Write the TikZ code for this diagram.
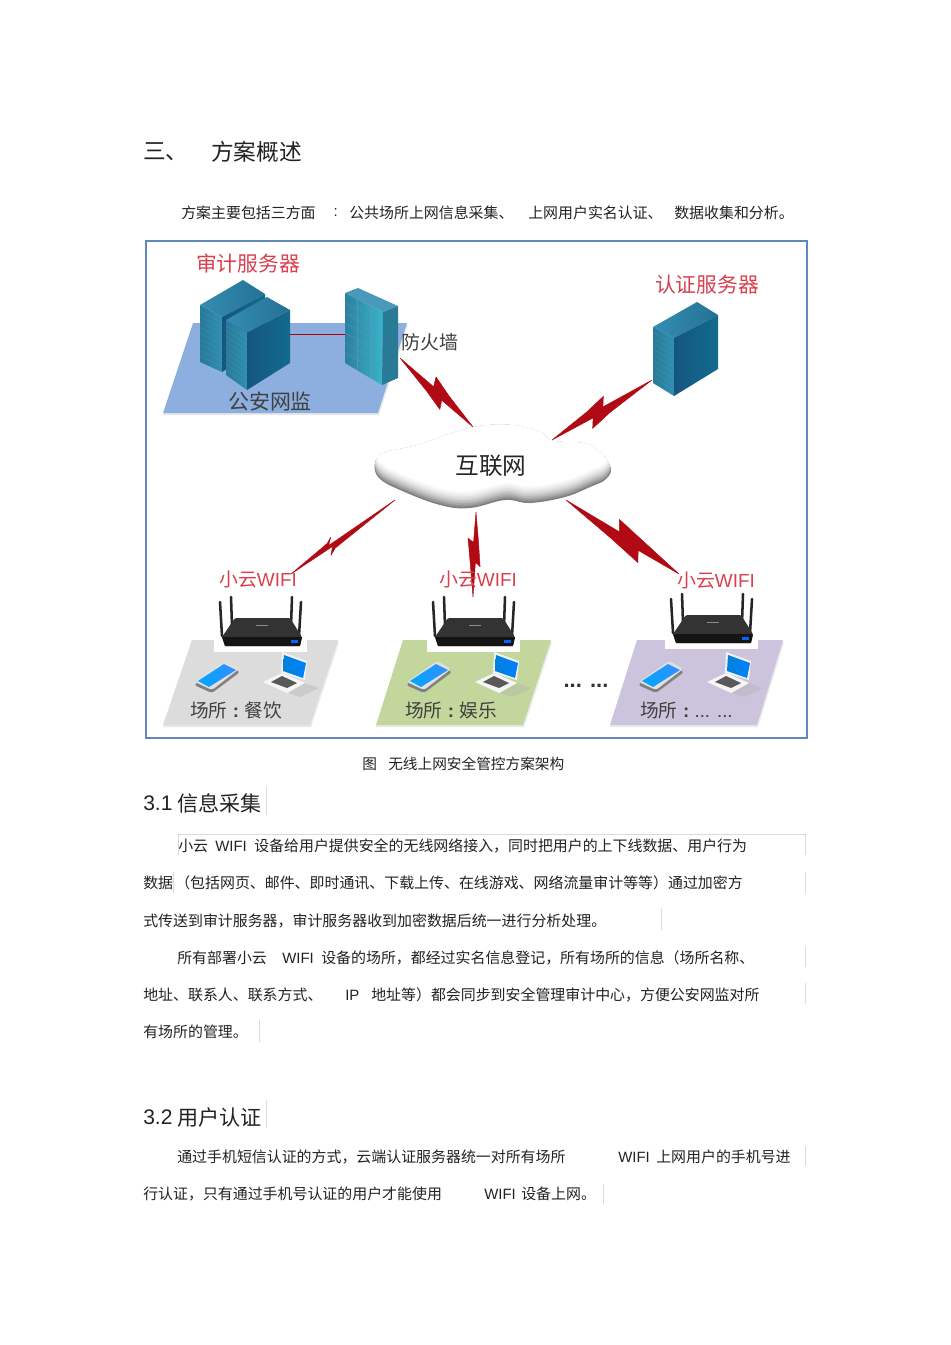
\documentclass[tikz,border=0pt]{standalone}
\usepackage{fontspec}
\setmainfont{Noto Sans CJK SC}
\newfontfamily\lat{Liberation Sans}
\usetikzlibrary{calc}
\definecolor{framebl}{HTML}{5F88B8}
\definecolor{boltred}{HTML}{B20A14}
\definecolor{lblred}{HTML}{D9404F}
\definecolor{inkc}{HTML}{222222}
\definecolor{blueplane}{HTML}{8DAFDF}
\definecolor{greyplane}{HTML}{DCDCDC}
\definecolor{greenplane}{HTML}{C3D69B}
\definecolor{purpleplane}{HTML}{CCC3DC}
\definecolor{srvfront}{HTML}{2F8FB2}
\definecolor{srvside}{HTML}{15567F}
\definecolor{srvtop}{HTML}{2A86AE}
\tikzset{
 bodytxt/.style={anchor=west,inner sep=0pt,yshift=-.7pt,text=inkc,font=\fontsize{11.2}{13}\selectfont},
 headtxt/.style={anchor=west,inner sep=0pt,text=inkc,font=\fontsize{15.8}{18}\selectfont},
 redlbl/.style={inner sep=0pt,text=lblred,font=\fontsize{15.6}{18}\selectfont},
 wifilbl/.style={inner sep=0pt,text=lblred,font=\fontsize{14.2}{17}\selectfont},
 darklbl/.style={inner sep=0pt,text=black!75,font=\fontsize{15.7}{18}\selectfont},
 venuelbl/.style={inner sep=0pt,anchor=west,yshift=-.7pt,text=black!75,font=\fontsize{14}{16}\selectfont},
 hair/.style={draw=black!14,line width=.45pt},
 plane/.style={draw=none,fill=#1},
 pics/router/.style={code={
  \fill[white] (214,589) rectangle (307,652);
  \draw[black!85,line width=1.9pt,line cap=round] (220,602)--(222,636);
  \draw[black!85,line width=1.9pt,line cap=round] (231,597)--(232,626);
  \draw[black!85,line width=1.9pt,line cap=round] (292,597)--(291,626);
  \draw[black!85,line width=1.9pt,line cap=round] (301,602)--(299,636);
  \fill[black!80,rounded corners=1pt] (235,618)--(290,618)--(302,637)--(300,646)--(225,646)--(222,637)--cycle;
  \fill[black!92] (222,637)--(302,637)--(300,646)--(225,646)--cycle;
  \fill[black!45] (256,625) rectangle (268,626);
  \fill[blue!60!cyan] (291,640) rectangle (298,643);
 }},
 pics/devices/.style={code={
  % phone
  \fill[black!50,rounded corners=2pt] (194,685)--(225,664)--(240,672)--(212,693)--cycle;
  \fill[black!12,rounded corners=2pt] (195,682)--(225,661)--(239,669)--(212,690)--cycle;
  \shade[left color=cyan!65!blue,right color=cyan!45!blue!80] (198,681)--(224,664)--(236,670)--(209,687)--cycle;
  % laptop
  \fill[black!30,opacity=.4] (288,693)--(304,683)--(319,688)--(300,697)--cycle;
  \fill[black!5] (282,652)--(307,661)--(305,680)--(281,673)--cycle;
  \shade[left color=cyan!60!blue!85!black,right color=cyan!50!blue] (284,655)--(306,663)--(303,678)--(283,671)--cycle;
  \fill[black!4] (263,682)--(282,673)--(305,683)--(287,693)--cycle;
  \fill[black!65] (271,682)--(282,676)--(297,683)--(287,688)--cycle;
 }}
}
% server: left-top, back-top, right-top, front-top, left-bottom, front-bottom, right-bottom
\newcommand\srvfaces[7]{%
 \shade[left color=srvfront!85!black,right color=srvfront] (#1)--(#4)--(#6)--(#5)--cycle;
 \foreach \q in {.1,.2,...,.9}{\draw[srvside!50,opacity=.3,line width=.2pt] ($(#1)!\q!(#5)$)--($(#4)!\q!(#6)$);}
 \shade[left color=srvtop!95!white,right color=srvtop!85!black] (#1)--(#2)--(#3)--(#4)--cycle;
 \shade[left color=srvside,right color=srvside!88!cyan] (#4)--(#3)--(#7)--(#6)--cycle;}
\newcommand\boltz[6]{%
 \pgfmathsetmacro\tAa{#3+.02}\pgfmathsetmacro\tAb{#5-.05}\pgfmathsetmacro\tAc{#5-.03}\pgfmathsetmacro\tAd{#3+.05}%
 \pgfmathsetlengthmacro\oAa{(#6)*.42}\pgfmathsetlengthmacro\oAb{(#6)*.75}\pgfmathsetlengthmacro\oAc{(#6)*.15}%
 \pgfmathsetlengthmacro\oBa{(#4)*.42}\pgfmathsetlengthmacro\oBb{(#4)*.75}\pgfmathsetlengthmacro\oBc{(#4)*.15}%
 \filldraw[boltred,line width=.35pt,line join=round] (#1) -- ($(#1)!\tAa!(#2)!\oAa!90:(#2)$) -- ($(#1)!#5!(#2)!\oAb!90:(#2)$)
   -- ($(#1)!\tAb!(#2)!\oAc!90:(#2)$) -- (#2)
   -- ($(#1)!\tAc!(#2)!\oBa!90:(#2)$) -- ($(#1)!#3!(#2)!\oBb!90:(#2)$)
   -- ($(#1)!\tAd!(#2)!\oBc!90:(#2)$) -- cycle;}
\begin{document}
\begin{tikzpicture}[x=0.75pt,y=-0.75pt]
\useasboundingbox (0,0) rectangle (950,1345);
\fill[white] (0,0) rectangle (950,1345);
% heading
\node[headtxt,yshift=-.7pt,font=\fontsize{17}{20}\selectfont] (h3a) at (143,151) {三、};
\node[headtxt,yshift=-.7pt,font=\fontsize{17}{20}\selectfont] (h3b) at (211,151) {方案概述};
\node[bodytxt] (p0a) at (181,212) {方案主要包括三方面};
\node[bodytxt] (p0b) at (331,212) {\hspace{.15em}{\lat :}};
\node[bodytxt] (p0c) at (349,212) {公共场所上网信息采集、};
\node[bodytxt] (p0d) at (528,212) {上网用户实名认证、};
\node[bodytxt] (p0e) at (674,212) {数据收集和分析。};
% frame
\draw[framebl,line width=1.1pt] (146,241) rectangle (807,738);
% planes
\fill[black!9] (193,325)--(408,325)--(379,415)--(163,415)--cycle;
\fill[black!9] (192,642)--(339,642)--(311,727)--(163,727)--cycle;
\fill[black!9] (403,642)--(552,642)--(524,727)--(376,727)--cycle;
\fill[black!9] (637,642)--(784,642)--(758,727)--(610,727)--cycle;
\fill[plane=blueplane] (193,323)--(407,323)--(378,413)--(163,413)--cycle;
\fill[plane=greyplane] (192,640)--(338,640)--(310,725)--(163,725)--cycle;
\fill[plane=greenplane] (403,640)--(551,640)--(523,725)--(376,725)--cycle;
\fill[plane=purpleplane] (637,640)--(783,640)--(757,725)--(610,725)--cycle;
% audit servers
\srvfaces{200,305}{243,280}{265,294}{222,317}{200,362}{222,372}{265,345}
\coordinate (fwport) at (345,334);
\coordinate (srvport) at (290,334);
\draw[red!70!black,line width=.6pt] (srvport)--(fwport);
\srvfaces{226,320}{267,297}{290,310}{247,333}{226,375}{247,390}{290,363}
% firewall
\fill[srvtop!85!white] (345,293)--(358,288)--(398,306)--(383,312)--cycle;
\shade[left color=srvfront!90!black,right color=srvfront!75!cyan!90!white] (345,293)--(383,312)--(382,385)--(345,363)--cycle;
\fill[srvfront!85!black] (383,312)--(398,306)--(398,378)--(382,385)--cycle;
\foreach \k in {1,...,6}{\draw[srvside!60,opacity=.55,line width=.3pt] (345,{293+\k*10})--(382.7,{312+\k*10.4});}
\draw[srvside!60,opacity=.55,line width=.3pt] (357,299)--(357,370) (371,306)--(371,378);
% auth server
\srvfaces{653,327}{697,302}{718,315}{674,338}{653,383}{674,396}{718,369}
% cloud
\newcommand\cloudpath{plot[smooth cycle,tension=.65] coordinates {(375,464)(384,453)(418,445)(470,428)(510,425)(540,432)(553,441)(590,445)(610,466)(606,479)(590,487)(565,497)(530,503)(505,500)(470,508)(440,505)(400,490)(379,478)}}
\begin{scope}
\clip \cloudpath;
\fill[black!50] (360,415) rectangle (625,515);
\foreach \k/\c in {1/42,2/35,3/28,4/22,5/16,6/12,7/8,8/5,9/2,10/0}{
 \fill[black!\c,shift={(0,{-\k*1.7})}] \cloudpath;}
\end{scope}
\node[inner sep=0pt,text=black!85,font=\fontsize{17.75}{20}\selectfont] (cloud) at (491,466) {互联网};
% routers and devices
\pic at (0,0) {router};
\pic at (213,0) {router};
\pic at (451,-3) {router};
\pic at (0,0) {devices};
\pic at (212,0) {devices};
\pic at (444,0) {devices};
% connector ends
\coordinate (fwb) at (400,358);
\coordinate (ctl) at (473,427);
\coordinate (authb) at (652,380);
\coordinate (ctr) at (552,440);
\coordinate (cbl) at (395,500);
\coordinate (r1) at (291,574);
\coordinate (cbm) at (476,512);
\coordinate (r2) at (473,597);
\coordinate (cbr) at (566,500);
\coordinate (r3) at (679,574);
\boltz{fwb}{ctl}{.39}{11}{.64}{-10}
\boltz{authb}{ctr}{.43}{-11}{.65}{11}
\boltz{cbl}{r1}{.58}{-7}{.66}{8}
\boltz{cbm}{r2}{.31}{-7}{.64}{6}
\boltz{cbr}{r3}{.41}{13}{.70}{-13}
% labels
\node[redlbl] (laudit) at (248,264) {审计服务器};
\node[redlbl] (lauth) at (707,285) {认证服务器};
\node[darklbl,font=\fontsize{14.25}{16}\selectfont] (lfw) at (430,342) {防火墙};
\node[darklbl] (lpol) at (270,401) {公安网监};
\node[wifilbl] (w1) at (258,579) {小云{\lat WIFI}};
\node[wifilbl] (w2) at (478,579) {小云{\lat WIFI}};
\node[wifilbl] (w3) at (716,580) {小云{\lat WIFI}};
\node[venuelbl] (v1) at (190,710) {场所\makebox[12.75pt][c]{\lat\bfseries :}餐饮};
\node[venuelbl] (v2) at (405,710) {场所\makebox[12.75pt][c]{\lat\bfseries :}娱乐};
\node[venuelbl] (v3) at (640,710) {场所\makebox[12.75pt][c]{\lat\bfseries :}{\lat ... ...}};
\node[inner sep=0pt,text=black!80,font=\fontsize{16.5}{18}\bfseries\lat] (dots) at (586,686) {... ...};
\node[bodytxt,font=\fontsize{11}{13}\selectfont] (capa) at (362,763) {图};
\node[bodytxt,font=\fontsize{11}{13}\selectfont] (capb) at (388,763) {无线上网安全管控方案架构};
% section 3.1
\node[headtxt] (s31a) at (143,803) {\lat 3.1};
\node[headtxt] (s31b) at (177,803) {信息采集};
\node[bodytxt] (a1) at (178,845) {小云};
\node[bodytxt] (a2) at (215,845) {\lat WIFI};
\node[bodytxt] (a3) at (254,845) {设备给用户提供安全的无线网络接入，同时把用户的上下线数据、用户行为};
\node[bodytxt] (b1) at (143,882) {数据};
\node[bodytxt] (b2) at (175,882) {（包括网页、邮件、即时通讯、下载上传、在线游戏、网络流量审计等等）通过加密方};
\node[bodytxt] (c1) at (143,920) {式传送到审计服务器，审计服务器收到加密数据后统一进行分析处理。};
\node[bodytxt] (d1) at (177,957) {所有部署小云};
\node[bodytxt] (d2) at (282,957) {\lat WIFI};
\node[bodytxt] (d3) at (321,957) {设备的场所，都经过实名信息登记，所有场所的信息（场所名称、};
\node[bodytxt] (e1) at (143,994) {地址、联系人、联系方式、};
\node[bodytxt] (e2) at (345,994) {\lat IP};
\node[bodytxt] (e3) at (371,994) {地址等）都会同步到安全管理审计中心，方便公安网监对所};
\node[bodytxt] (f1) at (143,1031) {有场所的管理。};
% section 3.2
\node[headtxt] (s32a) at (143,1117) {\lat 3.2};
\node[headtxt] (s32b) at (177,1117) {用户认证};
\node[bodytxt] (g1) at (177,1156) {通过手机短信认证的方式，云端认证服务器统一对所有场所};
\node[bodytxt] (g2) at (618,1156) {\lat WIFI};
\node[bodytxt] (g3) at (656,1156) {上网用户的手机号进};
\node[bodytxt] (k1) at (143,1193) {行认证，只有通过手机号认证的用户才能使用};
\node[bodytxt] (k2) at (484,1193) {\lat WIFI};
\node[bodytxt] (k3) at (521,1193) {设备上网。};
% hairlines
\draw[hair] (266,787)--(266,815);
\draw[hair] (178,855)--(178,834)--(805,834)--(805,855);
\draw[hair] (173,872)--(173,893) (805,872)--(805,893);
\draw[hair] (661,908)--(661,930);
\draw[hair] (805,947)--(805,967) (805,983)--(805,1004);
\draw[hair] (259,1020)--(259,1042);
\draw[hair] (266,1100)--(266,1128);
\draw[hair] (805,1146)--(805,1166);
\draw[hair] (603,1184)--(603,1204);
\end{tikzpicture}
\end{document}
